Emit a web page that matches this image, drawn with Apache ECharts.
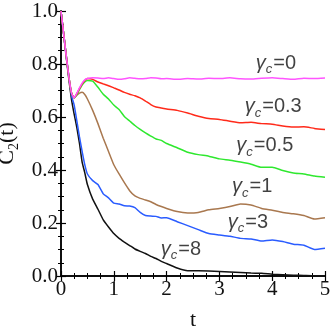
<!DOCTYPE html>
<html><head><meta charset="utf-8">
<script src="https://cdn.jsdelivr.net/npm/echarts@6/dist/echarts.min.js"></script>
<style>html,body{margin:0;padding:0;background:#fff}#c{width:332px;height:332px}</style>
</head><body><div id="c"></div>
<script>
// time grid
const t = [0,0.05,0.1,0.15,0.2,0.25,0.3,0.35,0.4,0.45,0.5,0.6,0.7,0.8,0.9,1.0,1.1,1.2,1.3,1.4,1.5,1.6,1.7,1.8,1.9,2.0,2.2,2.4,2.6,2.8,3.0,3.2,3.4,3.6,3.8,4.0,4.2,4.4,4.6,4.8,5.0];
// gamma_c = 0 (magenta)
const g0 = [1.0,0.915,0.83,0.75,0.69,0.672,0.69,0.71,0.728,0.74,0.745,0.748,0.747,0.745,0.748,0.745,0.742,0.744,0.748,0.746,0.744,0.745,0.748,0.747,0.744,0.745,0.742,0.745,0.743,0.746,0.745,0.748,0.744,0.743,0.746,0.748,0.745,0.742,0.746,0.745,0.747];
// gamma_c = 0.3 (red)
const g03 = [1.0,0.915,0.83,0.75,0.69,0.672,0.688,0.707,0.725,0.738,0.745,0.742,0.732,0.725,0.718,0.71,0.702,0.693,0.686,0.68,0.672,0.66,0.647,0.638,0.634,0.63,0.625,0.615,0.603,0.594,0.591,0.584,0.578,0.58,0.575,0.573,0.566,0.562,0.563,0.557,0.553];
// gamma_c = 0.5 (green)
const g05 = [1.0,0.915,0.83,0.75,0.69,0.672,0.685,0.703,0.72,0.732,0.738,0.735,0.712,0.686,0.668,0.645,0.628,0.602,0.585,0.568,0.553,0.54,0.528,0.517,0.512,0.5,0.484,0.467,0.458,0.452,0.442,0.437,0.43,0.422,0.41,0.41,0.398,0.389,0.385,0.377,0.373];
// gamma_c = 1 (brown)
const g1 = [1.0,0.915,0.83,0.75,0.69,0.672,0.682,0.69,0.693,0.685,0.668,0.625,0.575,0.52,0.47,0.42,0.385,0.352,0.322,0.302,0.293,0.287,0.28,0.27,0.262,0.255,0.243,0.238,0.24,0.25,0.255,0.262,0.272,0.268,0.255,0.248,0.24,0.235,0.228,0.215,0.22];
// gamma_c = 3 (blue)
const g3 = [1.0,0.915,0.83,0.75,0.68,0.645,0.585,0.525,0.47,0.42,0.385,0.36,0.345,0.31,0.295,0.275,0.272,0.265,0.264,0.258,0.24,0.228,0.226,0.225,0.219,0.22,0.205,0.19,0.175,0.16,0.155,0.15,0.142,0.14,0.132,0.136,0.13,0.12,0.116,0.1,0.105];
// gamma_c = 8 (black)
const g8 = [1.0,0.912,0.825,0.74,0.665,0.61,0.56,0.5,0.43,0.39,0.345,0.29,0.252,0.212,0.185,0.16,0.142,0.128,0.115,0.102,0.093,0.085,0.074,0.066,0.055,0.047,0.03,0.02,0.02,0.019,0.017,0.015,0.013,0.011,0.01,0.007,0.005,0.003,0.002,0.001,0.001];

const seriesNames = ['0','0.3','0.5','1','3','8'];
const seriesVals = [g0,g03,g05,g1,g3,g8];
const colors = ['#ff55ff','#ff2a1a','#2ee82e','#a9784f','#2a5cff','#111111'];

// curve labels (gamma_c values) and their anchor positions in data coords
const labelText = ['0','0.3','0.5','1','3','8'];
const labelT = [4.07,4.02,3.86,3.62,3.54,2.27];
const labelV = [0.80,0.636,0.489,0.333,0.20,0.098];

const xTicks = [0,1,2,3,4,5];
const yTicks = [0,0.2,0.4,0.6,0.8,1.0];

const chart = echarts.init(document.getElementById('c'), null, {renderer:'canvas'});
const serif = 'Liberation Serif';
const sans = 'Liberation Sans';

const axisCommon = {
  axisLine:{show:true,lineStyle:{color:'#000',width:1.5}},
  axisTick:{show:true,inside:true,length:5,lineStyle:{color:'#000',width:1.2}},
  minorTick:{show:true,splitNumber:4,length:3,lineStyle:{color:'#000',width:1}},
  splitLine:{show:false},
  minorSplitLine:{show:false}
};

const series = seriesVals.map((v,i)=>({
  type:'line', name:seriesNames[i], data:t.map((x,j)=>[x,v[j]]),
  showSymbol:false, symbol:'none', smooth:0.15,
  lineStyle:{color:colors[i],width:1.5}, itemStyle:{color:colors[i]},
  z: 10-i, animation:false
}));

series.push({
  type:'scatter', symbolSize:0, animation:false, silent:true,
  data: labelT.map((x,i)=>({value:[x,labelV[i]], txt:labelText[i]})),
  label:{
    show:true, position:'inside',
    formatter:(p)=>'{g|γ}{s|c}{e|='+p.data.txt+'}',
    rich:{
      g:{fontFamily:sans,fontStyle:'italic',fontSize:20,color:'#111',verticalAlign:'top',lineHeight:22},
      s:{fontFamily:sans,fontStyle:'italic',fontSize:13,color:'#111',verticalAlign:'top',lineHeight:13,padding:[10,1,0,0]},
      e:{fontFamily:sans,fontSize:20,color:'#111',verticalAlign:'top',lineHeight:22}
    }
  }
});

chart.setOption({
  animation:false,
  backgroundColor:'#fff',
  grid:{left:61,top:11,right:7,bottom:56,containLabel:false,outerBoundsMode:'none'},
  xAxis:[
    Object.assign({type:'value',min:0,max:5,interval:1,position:'bottom',
      name:'t',nameLocation:'middle',nameGap:33,
      nameTextStyle:{fontFamily:serif,fontSize:22,color:'#111'},
      axisLabel:{fontFamily:serif,fontSize:21,color:'#111',margin:3,
        formatter:(v)=>xTicks.includes(v)?String(v):''}},axisCommon),
    Object.assign({type:'value',min:0,max:5,interval:1,position:'top',axisLabel:{show:false}},axisCommon)
  ],
  yAxis:[
    Object.assign({type:'value',min:0,max:1,interval:0.2,position:'left',
      name:'{c|C}{s|2}{p|(t)}',nameLocation:'middle',nameGap:37,nameRotate:90,
      nameTextStyle:{rich:{
        c:{fontFamily:serif,fontSize:22,color:'#111',verticalAlign:'top',lineHeight:24},
        s:{fontFamily:serif,fontSize:14,color:'#111',verticalAlign:'top',lineHeight:14,padding:[11,0,0,0]},
        p:{fontFamily:serif,fontSize:22,color:'#111',verticalAlign:'top',lineHeight:24}
      }},
      axisLabel:{fontFamily:serif,fontSize:21,color:'#111',margin:3,
        formatter:(v)=>yTicks.some(y=>Math.abs(y-v)<1e-9)?v.toFixed(1):''}},axisCommon),
    Object.assign({type:'value',min:0,max:1,interval:0.2,position:'right',axisLabel:{show:false}},axisCommon)
  ],
  series:series
});
</script>
</body></html>
